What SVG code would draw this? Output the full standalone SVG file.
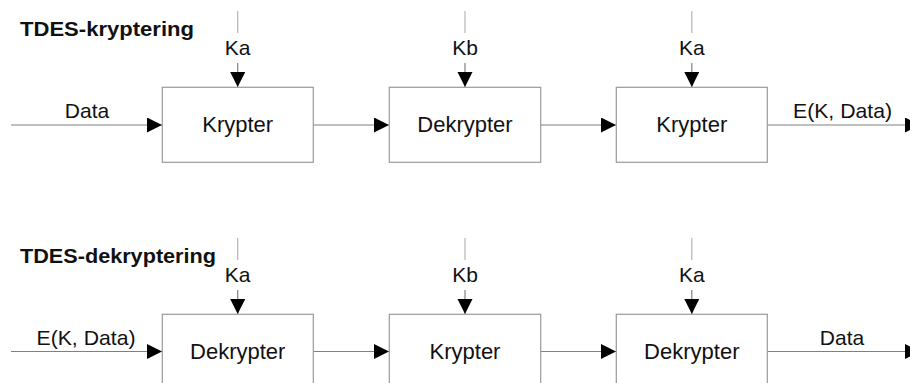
<svg xmlns="http://www.w3.org/2000/svg" width="910" height="383" viewBox="0 0 910 383">
  <style>
    .box { fill: #ffffff; stroke: #9a9a9a; stroke-width: 1.2; }
    .wire { fill: none; stroke: #808080; stroke-width: 1.2; }
    .keytop { fill: none; stroke: #b4b4b4; stroke-width: 1.2; }
    .node-label { font-family: "Liberation Sans", Arial, sans-serif; font-size: 22px; fill: #111; text-anchor: middle; }
    .lbl { font-family: "Liberation Sans", Arial, sans-serif; font-size: 21px; fill: #111; text-anchor: middle; }
    .title { font-family: "Liberation Sans", Arial, sans-serif; font-size: 20px; font-weight: bold; fill: #111; }
  </style>
  <defs>
    <marker id="arrow" markerUnits="userSpaceOnUse" markerWidth="16" markerHeight="16" refX="15" refY="7.5" orient="auto">
      <path d="M0,0 L15,7.5 L0,15 Z" fill="#000"/>
    </marker>
  </defs>
  <rect width="910" height="383" fill="#ffffff"/>

  <!-- section titles -->
  <text class="title" x="20" y="36" textLength="174" lengthAdjust="spacingAndGlyphs">TDES-kryptering</text>
  <text class="title" x="20" y="263" textLength="196" lengthAdjust="spacingAndGlyphs">TDES-dekryptering</text>

  <!-- connectors -->
  <g id="connectors">
    <!-- encryption row -->
    <line class="wire" x1="11" y1="125" x2="162" y2="125" marker-end="url(#arrow)"/>
    <line class="wire" x1="313" y1="125" x2="389" y2="125" marker-end="url(#arrow)"/>
    <line class="wire" x1="541" y1="125" x2="616" y2="125" marker-end="url(#arrow)"/>
    <line class="wire" x1="767" y1="125" x2="920" y2="125" marker-end="url(#arrow)"/>
    <line class="keytop" x1="237.7" y1="11" x2="237.7" y2="33"/>
    <line class="wire" x1="237.7" y1="63" x2="237.7" y2="87" marker-end="url(#arrow)"/>
    <line class="keytop" x1="465" y1="11" x2="465" y2="33"/>
    <line class="wire" x1="465" y1="63" x2="465" y2="87" marker-end="url(#arrow)"/>
    <line class="keytop" x1="691.8" y1="11" x2="691.8" y2="33"/>
    <line class="wire" x1="691.8" y1="63" x2="691.8" y2="87" marker-end="url(#arrow)"/>
    <!-- decryption row -->
    <line class="wire" x1="11" y1="351.5" x2="162" y2="351.5" marker-end="url(#arrow)"/>
    <line class="wire" x1="313" y1="351.5" x2="389" y2="351.5" marker-end="url(#arrow)"/>
    <line class="wire" x1="541" y1="351.5" x2="616" y2="351.5" marker-end="url(#arrow)"/>
    <line class="wire" x1="767" y1="351.5" x2="920" y2="351.5" marker-end="url(#arrow)"/>
    <line class="keytop" x1="237.7" y1="238" x2="237.7" y2="260"/>
    <line class="wire" x1="237.7" y1="290" x2="237.7" y2="314" marker-end="url(#arrow)"/>
    <line class="keytop" x1="465" y1="238" x2="465" y2="260"/>
    <line class="wire" x1="465" y1="290" x2="465" y2="314" marker-end="url(#arrow)"/>
    <line class="keytop" x1="691.8" y1="238" x2="691.8" y2="260"/>
    <line class="wire" x1="691.8" y1="290" x2="691.8" y2="314" marker-end="url(#arrow)"/>

    <!-- wire labels -->
    <text class="lbl" x="87" y="118">Data</text>
    <text class="lbl" x="842.5" y="118" textLength="99" lengthAdjust="spacingAndGlyphs">E(K, Data)</text>
    <text class="lbl" x="237.7" y="55">Ka</text>
    <text class="lbl" x="465" y="55">Kb</text>
    <text class="lbl" x="691.8" y="55">Ka</text>
    <text class="lbl" x="86" y="345" textLength="99" lengthAdjust="spacingAndGlyphs">E(K, Data)</text>
    <text class="lbl" x="842" y="345">Data</text>
    <text class="lbl" x="237.7" y="282">Ka</text>
    <text class="lbl" x="465" y="282">Kb</text>
    <text class="lbl" x="691.8" y="282">Ka</text>
  </g>

  <!-- encryption chain -->
  <g id="enc1">
    <rect class="box" x="162.3" y="87.3" width="151" height="75"/>
    <text class="node-label" x="237.7" y="132">Krypter</text>
  </g>
  <g id="enc2">
    <rect class="box" x="389.3" y="87.3" width="151.4" height="75"/>
    <text class="node-label" x="465" y="132">Dekrypter</text>
  </g>
  <g id="enc3">
    <rect class="box" x="616.3" y="87.3" width="151" height="75"/>
    <text class="node-label" x="691.8" y="132">Krypter</text>
  </g>

  <!-- decryption chain -->
  <g id="dec1">
    <rect class="box" x="162.3" y="314.3" width="151" height="75"/>
    <text class="node-label" x="237.7" y="359">Dekrypter</text>
  </g>
  <g id="dec2">
    <rect class="box" x="389.3" y="314.3" width="151.4" height="75"/>
    <text class="node-label" x="465" y="359">Krypter</text>
  </g>
  <g id="dec3">
    <rect class="box" x="616.3" y="314.3" width="151" height="75"/>
    <text class="node-label" x="691.8" y="359">Dekrypter</text>
  </g>
</svg>
